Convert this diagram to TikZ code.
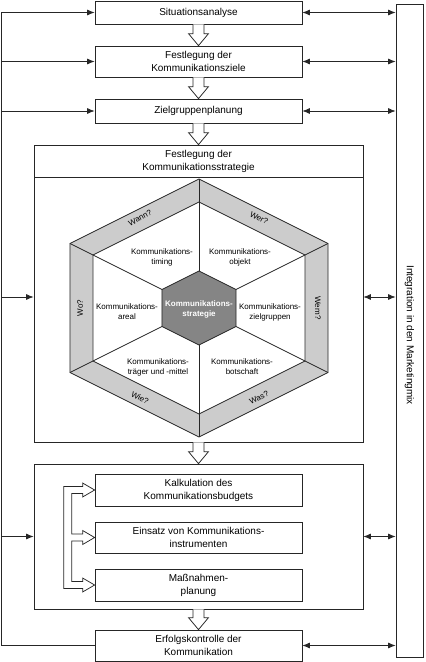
\documentclass[tikz,border=0pt]{standalone}
\usepackage{fontspec}
\setmainfont{Liberation Sans}
\usetikzlibrary{arrows.meta,calc}
\definecolor{bandgray}{gray}{0.8}
\definecolor{coregray}{gray}{0.52}

\begin{document}
\begin{tikzpicture}[x=1pt, y=-1pt, line width=0.75pt, draw=black!85,
    every node/.style={font=\fontsize{10}{13}\selectfont, align=center},
    stage/.style={draw, fill=white, minimum width=207pt, inner sep=0pt},
    frame/.style={draw, minimum width=329pt, inner sep=0pt},
    arr/.style={-{Latex[length=7.5pt,width=6pt]}},
    darr/.style={{Latex[length=7.5pt,width=6pt]}-{Latex[length=7.5pt,width=6pt]}},
    hollow/.style={draw, fill=white, line join=miter},
    hexlabel/.style={font=\fontsize{8}{10}\selectfont},
    bandlabel/.style={font=\fontsize{8}{10}\selectfont, inner sep=0.5pt},
    headto/.style={insert path={-- ($(#1.west)+(-12,-3.5)$) -- ($(#1.west)+(-12,-7)$)
        -- (#1.west) -- ($(#1.west)+(-12,7)$) -- ($(#1.west)+(-12,3.5)$)}}]
  \useasboundingbox (0,0) rectangle (426,662);

  % Ablauf
  \node[stage, minimum height=23pt] (sit) at (198.5,12.5) {Situationsanalyse};
  \node[stage, minimum height=31pt] (ziele) at (198.5,61.5) {Festlegung der\\Kommunikationsziele};
  \node[stage, minimum height=24pt] (zg) at (198.5,111) {Zielgruppenplanung};
  \node[frame, minimum height=297pt] (strat) at (198.5,293.5) {};
  \node[frame, minimum height=32pt] (strathead) at (198.5,161) {Festlegung der\\Kommunikationsstrategie};
  \node[frame, minimum height=145pt] (umsetzung) at (198.5,536.5) {};
  \node[stage, minimum height=32pt] (kalk) at (198.5,490) {Kalkulation des\\Kommunikationsbudgets};
  \node[stage, minimum height=31pt] (einsatz) at (198.5,537.5) {Einsatz von Kommunikations-\\instrumenten};
  \node[stage, minimum height=32pt] (mass) at (198.5,585) {Maßnahmen-\\planung};
  \node[stage, minimum height=31pt] (erfolg) at (198.5,645.5) {Erfolgskontrolle der\\Kommunikation};
  \node[draw, minimum width=27pt, minimum height=653pt, inner sep=0pt] (mix) at (409.5,330.5) {};
  \node[rotate=-90] (mixtext) at (409.5,335) {Integration in den Marketingmix};

  % Rueckkopplung links
  \coordinate (fb) at (1,0);
  \coordinate (stratin) at ([yshift=-3.5pt]strat.west);
  \coordinate (stratout) at ([yshift=-3.5pt]strat.east);
  \draw[arr] (erfolg.west) -- (erfolg.west -| fb) |- (sit.west);
  \foreach \n in {ziele,zg,umsetzung}
    \draw[arr] (\n.west -| fb) -- (\n.west);
  \draw[arr] (stratin -| fb) -- (stratin);

  % Marketingmix rechts
  \foreach \n in {sit,ziele,zg,umsetzung,erfolg}
    \draw[darr] (\n.east) -- (\n.east -| mix.west);
  \draw[darr] (stratout) -- (stratout -| mix.west);

  % Blockpfeile
  \foreach \a/\b in {sit/ziele,ziele/zg,zg/strathead,strat/umsetzung,umsetzung/erfolg}
    \draw[hollow] ($(\a.south)+(-5.5,0)$) -- ($(\b.north)+(-5.5,-12)$) -- ($(\b.north)+(-10,-12)$)
      -- (\b.north) -- ($(\b.north)+(10,-12)$) -- ($(\b.north)+(5.5,-12)$) -- ($(\a.south)+(5.5,0)$);
  \draw[hollow] ($(kalk.west)+(-31,-3.5)$) [headto=kalk] -- ($(kalk.west)+(-23,3.5)$)
    -- ($(einsatz.west)+(-23,-3.5)$) [headto=einsatz] -- ($(einsatz.west)+(-23,3.5)$)
    -- ($(mass.west)+(-23,-3.5)$) [headto=mass] -- ($(mass.west)+(-31,3.5)$) -- cycle;

  % Sechseck
  \begin{scope}[shift={(199,308)}]
    \begin{scope}[xscale=1.155]
      \draw[fill=bandgray] (90:129) \foreach \a in {30,-30,...,-210} {-- (\a:129)} -- cycle;
      \draw[fill=white] (90:106) \foreach \a in {30,-30,...,-210} {-- (\a:106)} -- cycle;
      \foreach \a in {90,30,...,-210}
        \draw (\a:37) -- (\a:129);
      \draw[fill=coregray] (90:37) \foreach \a in {30,-30,...,-210} {-- (\a:37)} -- cycle;
    \end{scope}
    \node[hexlabel, font=\fontsize{8}{10}\selectfont\bfseries, text=white] (kern) at (0,1) {Kommunikations-\\strategie};
    \node[hexlabel] (timing) at (-37,-51) {Kommunikations-\\timing};
    \node[hexlabel] (objekt) at (41,-51) {Kommunikations-\\objekt};
    \node[hexlabel] (areal) at (-72,4) {Kommunikations-\\areal};
    \node[hexlabel] (zielgr) at (71,4) {Kommunikations-\\zielgruppen};
    \node[hexlabel] (traeger) at (-41,59) {Kommunikations-\\träger und -mittel};
    \node[hexlabel] (botschaft) at (43,59) {Kommunikations-\\botschaft};
    \node[bandlabel, rotate=26.4] (wann) at (-59,-90) {Wann?};
    \node[bandlabel, rotate=-26.4] (wer) at (60,-90) {Wer?};
    \node[bandlabel, rotate=-90] (wem) at (119,0) {Wem?};
    \node[bandlabel, rotate=26.4] (was) at (60,90) {Was?};
    \node[bandlabel, rotate=-26.4] (wie) at (-59,90) {Wie?};
    \node[bandlabel, rotate=90] (wo) at (-119,0) {Wo?};
  \end{scope}
\end{tikzpicture}
\end{document}
